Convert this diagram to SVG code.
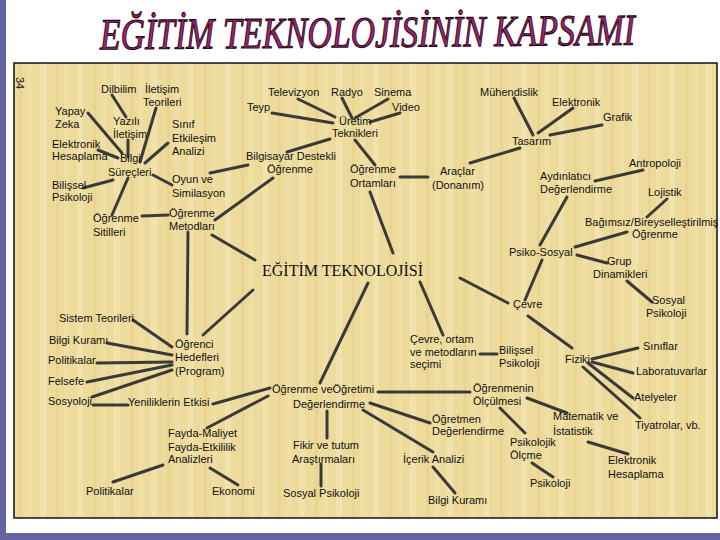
<svg xmlns="http://www.w3.org/2000/svg" width="720" height="540" viewBox="0 0 720 540">
<defs>
<pattern id="tex" x="0" y="0" width="37" height="8" patternUnits="userSpaceOnUse">
<rect width="37" height="8" fill="#eddb9c"/>
<rect x="3" width="6" height="8" fill="#f1e2ab"/>
<rect x="19" width="3" height="8" fill="#e9d591"/>
<rect x="27" width="5" height="8" fill="#f0dfa5"/>
</pattern>
<style>
.t{font-family:"Liberation Sans",Arial,sans-serif;font-size:11px;fill:#111;}
.c{stroke:#3a3a3a;stroke-width:3;stroke-linecap:round;fill:none;}
</style>
</defs>
<rect width="720" height="540" fill="#ffffff"/>
<rect x="0" y="0" width="6" height="540" fill="#6464a4"/>
<rect x="0" y="533" width="720" height="7" fill="#6464a4"/>
<g transform="rotate(-0.5 367 45)">
<text x="100" y="47" font-family="'Liberation Serif','Times New Roman',serif" font-style="italic" font-size="44" textLength="535" lengthAdjust="spacingAndGlyphs" fill="#a02470" stroke="#1e0818" stroke-width="1.1">EĞİTİM TEKNOLOJİSİNİN KAPSAMI</text>
</g>
<rect x="14" y="63" width="703" height="455" fill="url(#tex)" stroke="#111" stroke-width="1.5"/>
<text class="t" font-size="9" transform="translate(16 77) rotate(90)">34</text>

<g id="connectors">
<line class="c" x1="112" y1="95" x2="126" y2="117"/>
<line class="c" x1="156" y1="108" x2="140" y2="162"/>
<line class="c" x1="88" y1="113" x2="122" y2="153"/>
<line class="c" x1="128" y1="140" x2="128" y2="157"/>
<line class="c" x1="168" y1="143" x2="145" y2="163"/>
<line class="c" x1="98" y1="150" x2="118" y2="158"/>
<line class="c" x1="83" y1="188" x2="113" y2="180"/>
<line class="c" x1="128" y1="178" x2="112" y2="215"/>
<line class="c" x1="153" y1="175" x2="172" y2="185"/>
<line class="c" x1="142" y1="216" x2="168" y2="215"/>
<line class="c" x1="210" y1="173" x2="248" y2="165"/>
<line class="c" x1="273" y1="178" x2="215" y2="220"/>
<line class="c" x1="212" y1="235" x2="255" y2="260"/>
<line class="c" x1="188" y1="232" x2="187" y2="334"/>
<line class="c" x1="253" y1="290" x2="203" y2="335"/>
<line class="c" x1="298" y1="99" x2="335" y2="117"/>
<line class="c" x1="342" y1="98" x2="352" y2="118"/>
<line class="c" x1="388" y1="99" x2="355" y2="118"/>
<line class="c" x1="400" y1="113" x2="370" y2="122"/>
<line class="c" x1="272" y1="113" x2="333" y2="123"/>
<line class="c" x1="330" y1="139" x2="287" y2="152"/>
<line class="c" x1="355" y1="140" x2="375" y2="165"/>
<line class="c" x1="400" y1="177" x2="428" y2="177"/>
<line class="c" x1="370" y1="192" x2="393" y2="253"/>
<line class="c" x1="470" y1="163" x2="520" y2="148"/>
<line class="c" x1="514" y1="98" x2="533" y2="135"/>
<line class="c" x1="573" y1="108" x2="538" y2="133"/>
<line class="c" x1="602" y1="125" x2="550" y2="135"/>
<line class="c" x1="643" y1="170" x2="595" y2="181"/>
<line class="c" x1="667" y1="199" x2="647" y2="217"/>
<line class="c" x1="567" y1="197" x2="540" y2="245"/>
<line class="c" x1="627" y1="232" x2="575" y2="247"/>
<line class="c" x1="577" y1="255" x2="607" y2="263"/>
<line class="c" x1="627" y1="281" x2="652" y2="302"/>
<line class="c" x1="542" y1="260" x2="525" y2="300"/>
<line class="c" x1="460" y1="278" x2="508" y2="303"/>
<line class="c" x1="528" y1="316" x2="572" y2="348"/>
<line class="c" x1="592" y1="359" x2="638" y2="348"/>
<line class="c" x1="592" y1="362" x2="633" y2="373"/>
<line class="c" x1="588" y1="363" x2="633" y2="398"/>
<line class="c" x1="583" y1="367" x2="640" y2="418"/>
<line class="c" x1="480" y1="354" x2="497" y2="354"/>
<line class="c" x1="420" y1="282" x2="443" y2="335"/>
<line class="c" x1="368" y1="283" x2="320" y2="383"/>
<line class="c" x1="378" y1="392" x2="470" y2="392"/>
<line class="c" x1="370" y1="403" x2="430" y2="423"/>
<line class="c" x1="363" y1="410" x2="433" y2="452"/>
<line class="c" x1="327" y1="411" x2="327" y2="438"/>
<line class="c" x1="321" y1="464" x2="321" y2="486"/>
<line class="c" x1="527" y1="398" x2="567" y2="413"/>
<line class="c" x1="500" y1="408" x2="525" y2="433"/>
<line class="c" x1="588" y1="442" x2="628" y2="454"/>
<line class="c" x1="532" y1="463" x2="553" y2="477"/>
<line class="c" x1="433" y1="467" x2="455" y2="493"/>
<line class="c" x1="213" y1="404" x2="270" y2="388"/>
<line class="c" x1="207" y1="428" x2="268" y2="396"/>
<line class="c" x1="113" y1="482" x2="163" y2="465"/>
<line class="c" x1="210" y1="468" x2="238" y2="485"/>
<line class="c" x1="93" y1="405" x2="128" y2="405"/>
<line class="c" x1="133" y1="320" x2="172" y2="347"/>
<line class="c" x1="107" y1="343" x2="172" y2="355"/>
<line class="c" x1="97" y1="363" x2="172" y2="362"/>
<line class="c" x1="87" y1="382" x2="172" y2="365"/>
<line class="c" x1="92" y1="397" x2="172" y2="370"/>
</g>

<g id="n-merkez"><text x="262" y="276" font-family="'Liberation Serif','Times New Roman',serif" font-size="16" fill="#111">EĞİTİM TEKNOLOJİSİ</text></g>
<g id="n-dilbilim"><text class="t" x="101" y="93">Dilbilim</text></g>
<g id="n-iletisim-teorileri"><text class="t" x="145" y="93">İletişim</text><text class="t" x="143" y="106">Teorileri</text></g>
<g id="n-yapay-zeka"><text class="t" x="55" y="115">Yapay</text><text class="t" x="55" y="128">Zeka</text></g>
<g id="n-yazili"><text class="t" x="113" y="125">Yazılı</text><text class="t" x="113" y="138">İletişim</text></g>
<g id="n-sinif"><text class="t" x="172" y="128">Sınıf</text><text class="t" x="172" y="142">Etkileşim</text><text class="t" x="172" y="155">Analizi</text></g>
<g id="n-elektronik1"><text class="t" x="52" y="148">Elektronik</text><text class="t" x="52" y="160">Hesaplama</text></g>
<g id="n-bilgi"><text class="t" x="120" y="162">Bilgi</text><text class="t" x="108" y="176">Süreçleri</text></g>
<g id="n-bilissel1"><text class="t" x="52" y="189">Bilişsel</text><text class="t" x="52" y="201">Psikoloji</text></g>
<g id="n-oyun"><text class="t" x="172" y="183">Oyun ve</text><text class="t" x="172" y="197">Similasyon</text></g>
<g id="n-sitilleri"><text class="t" x="93" y="222">Öğrenme</text><text class="t" x="93" y="236">Sitilleri</text></g>
<g id="n-metodlari"><text class="t" x="169" y="217">Öğrenme</text><text class="t" x="169" y="230">Metodları</text></g>
<g id="n-televizyon"><text class="t" x="268" y="96">Televizyon</text></g>
<g id="n-radyo"><text class="t" x="331" y="96">Radyo</text></g>
<g id="n-sinema"><text class="t" x="374" y="96">Sinema</text></g>
<g id="n-video"><text class="t" x="392" y="111">Video</text></g>
<g id="n-teyp"><text class="t" x="247" y="111">Teyp</text></g>
<g id="n-uretim"><text class="t" x="339" y="125">Üretim</text><text class="t" x="332" y="137">Teknikleri</text></g>
<g id="n-bda"><text class="t" x="246" y="160">Bilgisayar Destekli</text><text class="t" x="267" y="173">Öğrenme</text></g>
<g id="n-ortamlari"><text class="t" x="350" y="173">Öğrenme</text><text class="t" x="350" y="187">Ortamları</text></g>
<g id="n-araclar"><text class="t" x="440" y="175">Araçlar</text><text class="t" x="432" y="189">(Donanım)</text></g>
<g id="n-muhendislik"><text class="t" x="480" y="96">Mühendislik</text></g>
<g id="n-elektronik2"><text class="t" x="552" y="106">Elektronik</text></g>
<g id="n-grafik"><text class="t" x="603" y="121">Grafik</text></g>
<g id="n-tasarim"><text class="t" x="512" y="145">Tasarım</text></g>
<g id="n-antropoloji"><text class="t" x="629" y="167">Antropoloji</text></g>
<g id="n-aydinlatici"><text class="t" x="540" y="180">Aydınlatıcı</text><text class="t" x="540" y="193">Değerlendirme</text></g>
<g id="n-lojistik"><text class="t" x="648" y="196">Lojistik</text></g>
<g id="n-bagimsiz"><text class="t" x="585" y="226">Bağımsız/Bireyselleştirilmiş</text><text class="t" x="632" y="238">Öğrenme</text></g>
<g id="n-psikososyal"><text class="t" x="509" y="256">Psiko-Sosyal</text></g>
<g id="n-grup"><text class="t" x="607" y="265">Grup</text><text class="t" x="593" y="278">Dinamikleri</text></g>
<g id="n-sosyalpsik1"><text class="t" x="652" y="304">Sosyal</text><text class="t" x="646" y="317">Psikoloji</text></g>
<g id="n-cevre"><text class="t" x="513" y="308">Çevre</text></g>
<g id="n-sistem"><text class="t" x="59" y="322">Sistem Teorileri</text></g>
<g id="n-bilgikurami1"><text class="t" x="49" y="344">Bilgi Kuramı</text></g>
<g id="n-politikalar1"><text class="t" x="48" y="364">Politikalar</text></g>
<g id="n-felsefe"><text class="t" x="48" y="385">Felsefe</text></g>
<g id="n-sosyoloji"><text class="t" x="48" y="405">Sosyoloji</text></g>
<g id="n-ogrenci"><text class="t" x="175" y="348">Öğrenci</text><text class="t" x="175" y="361">Hedefleri</text><text class="t" x="175" y="375">(Program)</text></g>
<g id="n-cevreortam"><text class="t" x="410" y="343">Çevre, ortam</text><text class="t" x="410" y="356">ve metodların</text><text class="t" x="410" y="368">seçimi</text></g>
<g id="n-bilissel2"><text class="t" x="499" y="354">Bilişsel</text><text class="t" x="499" y="367">Psikoloji</text></g>
<g id="n-fiziki"><text class="t" x="565" y="363">Fiziki</text></g>
<g id="n-siniflar"><text class="t" x="643" y="350">Sınıflar</text></g>
<g id="n-lab"><text class="t" x="636" y="375">Laboratuvarlar</text></g>
<g id="n-atelyeler"><text class="t" x="634" y="401">Atelyeler</text></g>
<g id="n-tiyatrolar"><text class="t" x="635" y="429">Tiyatrolar, vb.</text></g>
<g id="n-yenilik"><text class="t" x="128" y="406">Yeniliklerin Etkisi</text></g>
<g id="n-ogrenmeve"><text class="t" x="272" y="393">Öğrenme veÖğretimi</text><text class="t" x="293" y="408">Değerlendirme</text></g>
<g id="n-olculmesi"><text class="t" x="473" y="392">Öğrenmenin</text><text class="t" x="473" y="405">Ölçülmesi</text></g>
<g id="n-ogretmen"><text class="t" x="432" y="423">Öğretmen</text><text class="t" x="432" y="435">Değerlendirme</text></g>
<g id="n-matematik"><text class="t" x="553" y="420">Matematik ve</text><text class="t" x="553" y="435">İstatistik</text></g>
<g id="n-fayda"><text class="t" x="168" y="437">Fayda-Maliyet</text><text class="t" x="168" y="451">Fayda-Etkililik</text><text class="t" x="168" y="463">Analizleri</text></g>
<g id="n-fikir"><text class="t" x="293" y="449">Fikir ve tutum</text><text class="t" x="292" y="463">Araştırmaları</text></g>
<g id="n-icerik"><text class="t" x="403" y="463">İçerik Analizi</text></g>
<g id="n-psikolojik"><text class="t" x="510" y="446">Psikolojik</text><text class="t" x="510" y="459">Ölçme</text></g>
<g id="n-elektronik3"><text class="t" x="608" y="464">Elektronik</text><text class="t" x="608" y="478">Hesaplama</text></g>
<g id="n-psikoloji"><text class="t" x="530" y="487">Psikoloji</text></g>
<g id="n-bilgikurami2"><text class="t" x="428" y="504">Bilgi Kuramı</text></g>
<g id="n-politikalar2"><text class="t" x="86" y="495">Politikalar</text></g>
<g id="n-ekonomi"><text class="t" x="212" y="495">Ekonomi</text></g>
<g id="n-sosyalpsik2"><text class="t" x="283" y="497">Sosyal Psikoloji</text></g>
</svg>
